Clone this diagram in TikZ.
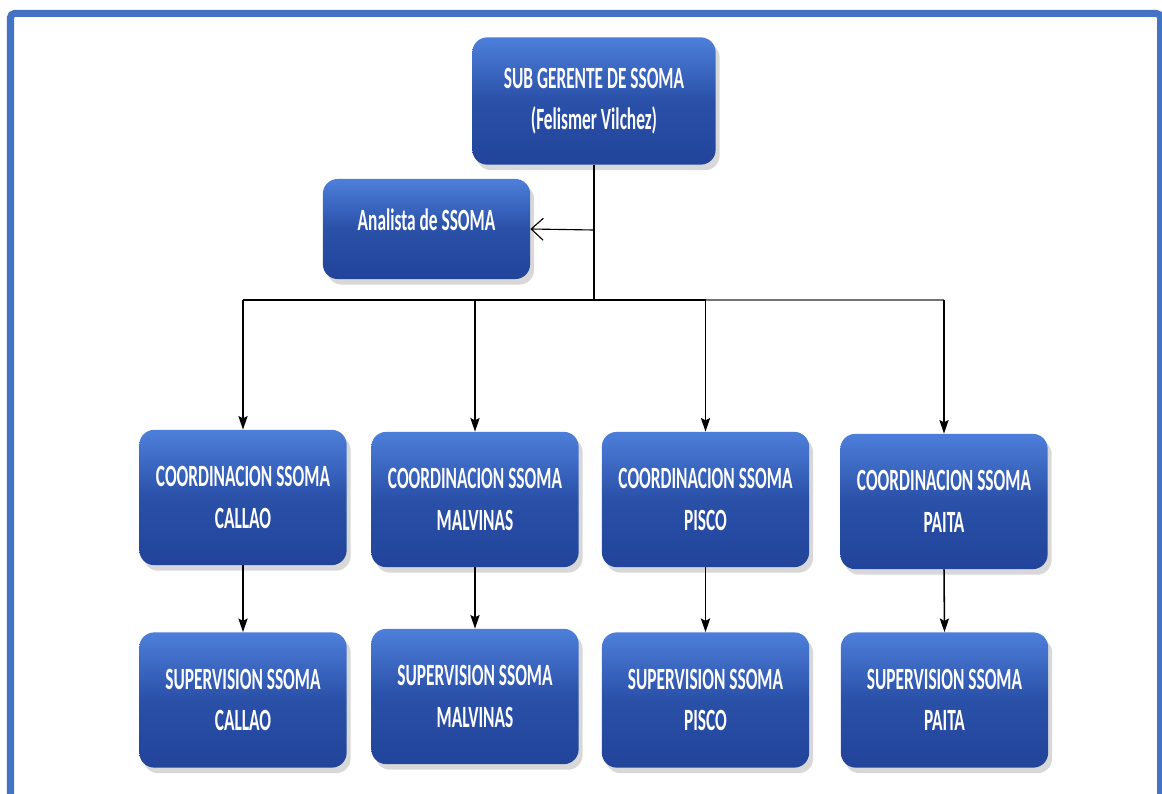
\documentclass[tikz,border=0pt]{standalone}
\usepackage{fontspec}
\newfontfamily\orgfont{Carlito}[FakeStretch=0.56]
\usetikzlibrary{arrows.meta,shadows}
\definecolor{framebl}{HTML}{4472C4}
\definecolor{boxtop}{HTML}{4D7FDA}
\definecolor{boxmid}{HTML}{2A50A8}
\definecolor{boxbot}{HTML}{22449A}
\tikzset{
  orgbox/.style={rounded corners=0.37cm,top color=boxtop,bottom color=boxbot,middle color=boxmid,
    text=white,align=center,inner sep=0pt,
    font=\orgfont\bfseries\fontsize{22}{29.5}\selectfont,
    minimum width=5.18cm,minimum height=3.38cm,
    drop shadow={shadow xshift=0.1cm,shadow yshift=-0.14cm,opacity=0.3}},
  downarrow/.style={line width=1.1pt,-{Stealth[length=3.4mm,width=2.3mm,inset=0.6mm]}},
  link/.style={line width=1.1pt}
}

\begin{document}
\begin{tikzpicture}[x=0.025cm,y=-0.025cm]
  \clip (0,0) rectangle (1162,794);
  \fill[white] (0,0) rectangle (1162,794);
  % marco
  \draw[framebl,line width=0.175cm,rounded corners=0.1cm] (10.5,850) -- (10.5,13.5) -- (1160.5,13.5) -- (1160.5,850);

  % cajas
  \node[orgbox,minimum width=6.08cm,minimum height=3.18cm] (sub) at (594,101) {SUB GERENTE DE SSOMA\\(Felismer Vilchez)};
  \node[orgbox,minimum height=2.5cm] (analista) at (426.5,229) {\raisebox{0.45cm}{Analista de SSOMA}};

  \node[orgbox] (coordcallao) at (243,497.5) {COORDINACION SSOMA\\CALLAO};
  \node[orgbox] (coordmalvinas) at (475,499.5) {COORDINACION SSOMA\\MALVINAS};
  \node[orgbox] (coordpisco) at (705.5,499.5) {COORDINACION SSOMA\\PISCO};
  \node[orgbox] (coordpaita) at (944,501.5) {COORDINACION SSOMA\\PAITA};

  \node[orgbox] (supcallao) at (243,700) {SUPERVISION SSOMA\\CALLAO};
  \node[orgbox] (supmalvinas) at (475,696.5) {SUPERVISION SSOMA\\MALVINAS};
  \node[orgbox] (suppisco) at (705.5,700) {SUPERVISION SSOMA\\PISCO};
  \node[orgbox] (suppaita) at (944.5,700) {SUPERVISION SSOMA\\PAITA};

  % conectores
  \coordinate (branch) at (594,230);
  \coordinate (bus) at (594,300);
  \draw[link] (sub.south) -- (bus);
  \draw[line width=0.8pt,-{Straight Barb[length=3mm,width=5.5mm]}] (branch) -- (analista.east);
  \draw[link] (bus -| coordcallao.north) -- (bus -| coordpisco.north);
  \draw[link,black!55,line width=1.6pt] (bus -| coordpisco.north) -- (bus -| coordpaita.north);
  \draw[downarrow] (bus -| coordcallao.north) -- (coordcallao.north);
  \draw[downarrow] (bus -| coordmalvinas.north) -- (coordmalvinas.north);
  \draw[downarrow] (bus -| coordpisco.north) -- (coordpisco.north);
  \draw[downarrow] (bus -| coordpaita.north) -- (coordpaita.north);

  \draw[downarrow] (coordcallao.south) -- (supcallao.north);
  \draw[downarrow] (coordmalvinas.south) -- (supmalvinas.north);
  \draw[downarrow] (coordpisco.south) -- (suppisco.north);
  \draw[downarrow] (coordpaita.south) -- (suppaita.north);
\end{tikzpicture}
\end{document}
